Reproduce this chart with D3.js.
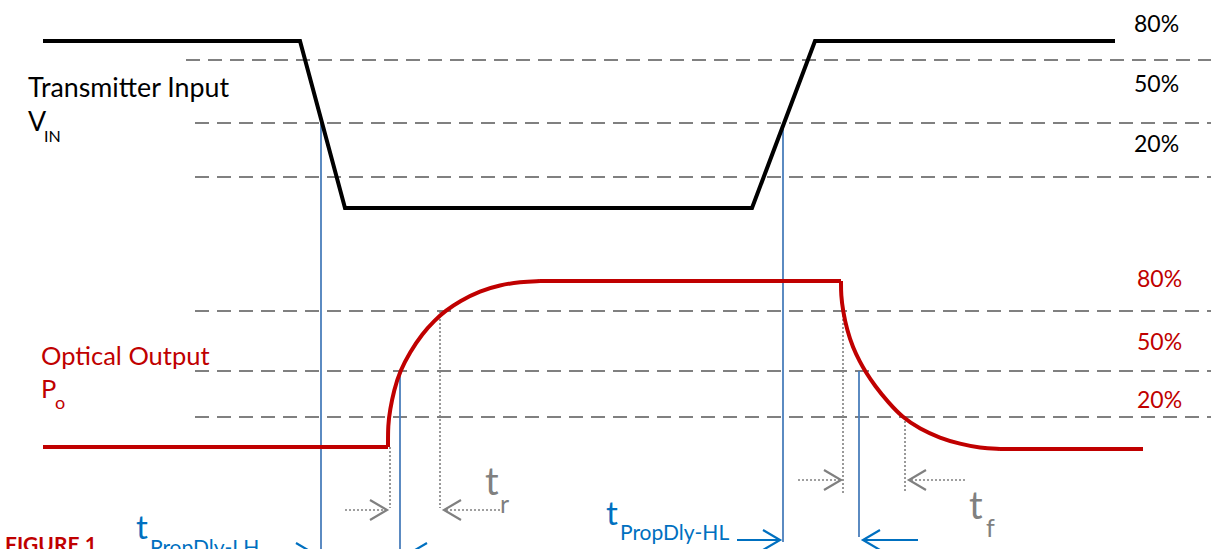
<!DOCTYPE html>
<html>
<head>
<meta charset="utf-8">
<script src="https://cdn.jsdelivr.net/npm/d3@7/dist/d3.min.js"></script>
<style>
  html, body { margin: 0; padding: 0; background: #fff; }
  svg { display: block; }
  text { font-family: Lato, "Open Sans", sans-serif; }
</style>
</head>
<body>
<svg id="chart" width="1211" height="549"></svg>
<script>
// ---------- DATA (time units, signal level in % of swing) ----------
const inputTime  = [0, 25.7, 30.2, 70.9, 77.2, 107.2];
const inputLevel = [100, 100, 0, 0, 100, 100];

const outRiseTime  = [34.5, 34.5, 34.7, 35.1, 35.7, 36.7, 37.9, 39.2, 40.2, 41.7, 43.7, 45.7, 47.7, 49.7];
const outRiseLevel = [0, 13.3, 22.3, 34.3, 45.8, 57.2, 68.1, 76.5, 81.9, 88.0, 94.0, 97.6, 99.4, 100];
const outFallTime  = [79.8, 79.8, 80.0, 80.4, 81.0, 81.7, 82.2, 83.2, 84.5, 85.9, 87.7, 89.7, 91.7, 93.7, 95.7];
const outFallLevel = [100, 91.6, 81.9, 70.5, 59.6, 51.2, 45.8, 36.7, 27.1, 18.1, 10.8, 5.4, 1.8, -0.6, -1.2];
const outFlatTime  = [0, 34.5, null, 49.7, 79.8, null, 95.7, 110];
const outFlatLevel = [0, 0, null, 100, 100, null, -1.2, -1.2];

const thresholdLabels = ["80%", "50%", "20%"];
const inputThresholds  = [88.6, 50.9, 18.6];
const inputLabelLevels = [105.4, 69.5, 33.5];
const outThresholds    = [81.9, 45.8, 18.1];
const outLabelLevels   = [96.4, 58.4, 23.5];

// event times: 50% input crossings, 50% output crossings, 20%/80% output crossings
const propLHStart = 27.8, propLHEnd = 35.7;
const propHLStart = 74.0, propHLEnd = 81.6;
const riseStart = 34.7, riseEnd = 39.7;
const fallStart = 80.0, fallEnd = 86.2;

// ---------- SCALES ----------
const x = d3.scaleLinear().domain([0, 110]).range([43, 1143]);
const yIn = d3.scaleLinear().domain([0, 100]).range([208, 41]);
const yOut = d3.scaleLinear().domain([0, 100]).range([447, 281]);

const svg = d3.select("#chart");
const RED = "#c00000", GRAY = "#808080", BLUE_LINE = "#4a7ebb", BLUE = "#0070c0";

// ---------- threshold dashed lines ----------
const dashStartIn = [x(14.3), x(15.2), x(15.2)];
inputThresholds.forEach((lv, i) => {
  svg.append("line").attr("x1", dashStartIn[i]).attr("x2", 1211)
    .attr("y1", yIn(lv)).attr("y2", yIn(lv))
    .attr("stroke", GRAY).attr("stroke-width", 2).attr("stroke-dasharray", "14,8");
  svg.append("text").attr("x", 1134).attr("y", yIn(inputLabelLevels[i]))
    .attr("font-size", 23).attr("fill", "#000").text(thresholdLabels[i]);
});
outThresholds.forEach((lv, i) => {
  svg.append("line").attr("x1", x(15.2)).attr("x2", 1211)
    .attr("y1", yOut(lv)).attr("y2", yOut(lv))
    .attr("stroke", GRAY).attr("stroke-width", 2).attr("stroke-dasharray", "14,8");
  svg.append("text").attr("x", 1137).attr("y", yOut(outLabelLevels[i]))
    .attr("font-size", 23).attr("fill", RED).text(thresholdLabels[i]);
});

// ---------- blue propagation delay lines ----------
const blueLines = [
  [propLHStart, yIn(50.9), 549],
  [propLHEnd, yOut(45.8), 549],
  [propHLStart, yIn(50.9), 542],
  [propHLEnd, yOut(45.8), 537]
];
blueLines.forEach(d => {
  svg.append("line").attr("x1", x(d[0])).attr("x2", x(d[0]))
    .attr("y1", d[1]).attr("y2", d[2])
    .attr("stroke", BLUE_LINE).attr("stroke-width", 1.8);
});

// ---------- gray dotted lines ----------
const grayLines = [
  [riseStart, yOut(0), 508],
  [riseEnd, yOut(81.9), 508],
  [fallStart, yOut(81.9), 493],
  [fallEnd, yOut(18.1), 493]
];
grayLines.forEach(d => {
  svg.append("line").attr("x1", x(d[0])).attr("x2", x(d[0]))
    .attr("y1", d[1]).attr("y2", d[2])
    .attr("stroke", GRAY).attr("stroke-width", 1.6).attr("stroke-dasharray", "2,2");
});

// ---------- signals ----------
const inLine = d3.line().x((d, i) => x(inputTime[i])).y((d, i) => yIn(inputLevel[i]));
svg.append("path").attr("d", inLine(inputTime))
  .attr("fill", "none").attr("stroke", "#000").attr("stroke-width", 4).attr("stroke-linejoin", "miter");

const flat = d3.line().defined((d, i) => outFlatTime[i] !== null)
  .x((d, i) => x(outFlatTime[i])).y((d, i) => yOut(outFlatLevel[i]));
svg.append("path").attr("d", flat(outFlatTime))
  .attr("fill", "none").attr("stroke", RED).attr("stroke-width", 4);

const curveLine = (tArr, lArr) => d3.line().curve(d3.curveBasis)
  .x((d, i) => x(tArr[i])).y((d, i) => yOut(lArr[i]))(tArr);
svg.append("path").attr("d", curveLine(outRiseTime, outRiseLevel))
  .attr("fill", "none").attr("stroke", RED).attr("stroke-width", 4);
svg.append("path").attr("d", curveLine(outFallTime, outFallLevel))
  .attr("fill", "none").attr("stroke", RED).attr("stroke-width", 4);

// ---------- arrows ----------
function arrow(tail, head, y, color, dotted, width) {
  svg.append("line").attr("x1", tail).attr("x2", head).attr("y1", y).attr("y2", y)
    .attr("stroke", color).attr("stroke-width", width)
    .attr("stroke-dasharray", dotted ? "2,2" : null);
  const dir = head > tail ? 1 : -1;
  svg.append("path")
    .attr("d", `M${head - dir * 17},${y - 10}L${head},${y}L${head - dir * 17},${y + 10}`)
    .attr("fill", "none").attr("stroke", color).attr("stroke-width", 2.2);
}
arrow(x(riseStart) - 45, x(riseStart) - 3, 510, GRAY, true, 1.6);
arrow(x(riseEnd) + 60, x(riseEnd) + 4, 510, GRAY, true, 1.6);
arrow(x(fallStart) - 45, x(fallStart) - 2, 480, GRAY, true, 1.6);
arrow(x(fallEnd) + 60, x(fallEnd) + 4, 480, GRAY, true, 1.6);
arrow(x(propHLStart) - 46, x(propHLStart) - 3, 540, BLUE, false, 2);
arrow(x(propHLEnd) + 59, x(propHLEnd) + 4, 540, BLUE, false, 2);
arrow(x(propLHStart) - 45, x(propLHStart) - 8, 553, BLUE, false, 2);
arrow(x(propLHEnd) + 40, x(propLHEnd) + 10, 553, BLUE, false, 2);

// ---------- texts ----------
function txt(xp, yp, s, size, color, weight) {
  svg.append("text").attr("x", xp).attr("y", yp).attr("font-size", size)
    .attr("fill", color).attr("font-weight", weight || "normal").text(s);
}
txt(28, 97, "Transmitter Input", 26.8, "#000");
txt(28, 131, "V", 26.8, "#000");
txt(44, 142, "IN", 16, "#000");
txt(41, 365, "Optical Output", 25.5, RED);
txt(41, 398, "P", 25.5, RED);
txt(55, 409, "o", 18, RED);

txt(485, 495, "t", 38, GRAY);
txt(500, 513, "r", 25, GRAY);
txt(969, 519, "t", 38, GRAY);
txt(986, 537, "f", 25, GRAY);

txt(606, 525, "t", 33, BLUE);
txt(620, 540, "PropDly-HL", 21, BLUE);
txt(136, 539, "t", 33, BLUE);
txt(150, 555, "PropDly-LH", 21, BLUE);

txt(5, 552, "FIGURE 1", 21, RED, "bold");
</script>
</body>
</html>
